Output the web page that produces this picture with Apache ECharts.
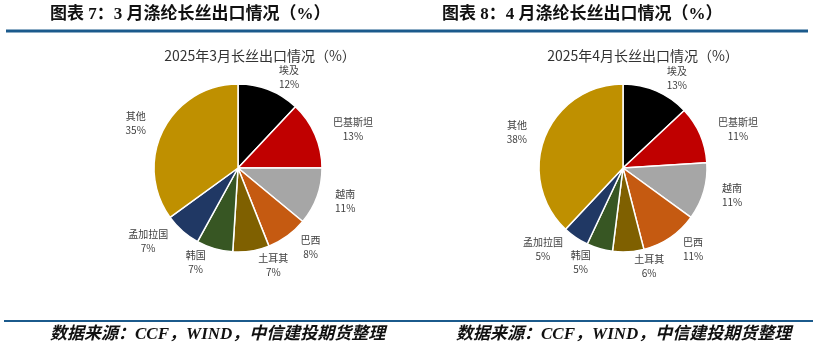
<!DOCTYPE html>
<html>
<head>
<meta charset="utf-8">
<script src="https://cdn.jsdelivr.net/npm/echarts@6/dist/echarts.min.js"></script>
<style>
  html, body { margin: 0; padding: 0; background: #fff; }
  #chart { width: 813px; height: 354px; }
</style>
</head>
<body>
<div id="chart"></div>
<script>
// Export destinations (same order in both months)
const countries = ["埃及", "巴基斯坦", "越南", "巴西", "土耳其", "韩国", "孟加拉国", "其他"];
const marShare = [12, 13, 11, 8, 7, 7, 7, 35];
const aprShare = [13, 11, 11, 11, 6, 5, 5, 38];
const sliceColors = ["#000000", "#C00000", "#A6A6A6", "#C55A11", "#7F6000", "#375623", "#203864", "#BF9000"];

const headerTitles = ["图表 7：3 月涤纶长丝出口情况（%）", "图表 8：4 月涤纶长丝出口情况（%）"];
const chartTitles = ["2025年3月长丝出口情况（%）", "2025年4月长丝出口情况（%）"];
const sourceNote = "数据来源：CCF，WIND，中信建投期货整理";

const cjk = "'Noto Sans CJK SC', 'Liberation Sans', sans-serif";

const chart = echarts.init(document.getElementById("chart"));

// label block as wide as its longest line so both lines stay centred
const labelRich = (name) => ({
  n: {
    width: Math.max(name.length * 10, 18),
    align: "center",
    fontSize: 10,
    lineHeight: 14,
    color: "#404040",
    fontFamily: cjk,
  },
});

const makePie = (values, center) => ({
  type: "pie",
  center: center,
  radius: 84,
  startAngle: 90,
  clockwise: true,
  avoidLabelOverlap: false,
  silent: true,
  itemStyle: { borderColor: "#fff", borderWidth: 1.5 },
  label: {
    show: true,
    position: "outside",
    formatter: "{n|{b}}\n{n|{c}%}",
  },
  labelLine: { show: false, length: 14, length2: 0 },
  labelLayout: { hideOverlap: false },
  data: countries.map((name, i) => ({
    name: name,
    value: values[i],
    itemStyle: { color: sliceColors[i] },
    label: { rich: labelRich(name) },
  })),
});

const titleStyle = { fontSize: 14, fontWeight: "normal", color: "#333", fontFamily: cjk };
const headerFont = "bold 17px 'Liberation Serif', " + cjk;
const noteFont = "italic bold 17px 'Liberation Serif', " + cjk;

const option = {
  backgroundColor: "#fff",
  animation: false,
  title: [
    { text: chartTitles[0], left: 255, top: 44, textAlign: "center", textStyle: titleStyle },
    { text: chartTitles[1], left: 638, top: 44, textAlign: "center", textStyle: titleStyle },
  ],
  graphic: [
    // header captions
    { type: "text", left: 50, top: 6, style: { text: headerTitles[0], font: headerFont, fill: "#111" } },
    { type: "text", left: 442, top: 6, style: { text: headerTitles[1], font: headerFont, fill: "#111" } },
    // header rule
    {
      type: "line",
      shape: { x1: 6, y1: 31, x2: 808, y2: 31 },
      style: { stroke: "#1B5A8C", lineWidth: 3 },
    },
    // footer rule
    {
      type: "line",
      shape: { x1: 4, y1: 321, x2: 813, y2: 321 },
      style: { stroke: "#1B5A8C", lineWidth: 2 },
    },
    // source notes
    { type: "text", left: 50, top: 326, style: { text: sourceNote, font: noteFont, fill: "#111" } },
    { type: "text", left: 456, top: 326, style: { text: sourceNote, font: noteFont, fill: "#111" } },
  ],
  series: [makePie(marShare, [238, 168]), makePie(aprShare, [623, 168])],
};

chart.setOption(option);
</script>
</body>
</html>
